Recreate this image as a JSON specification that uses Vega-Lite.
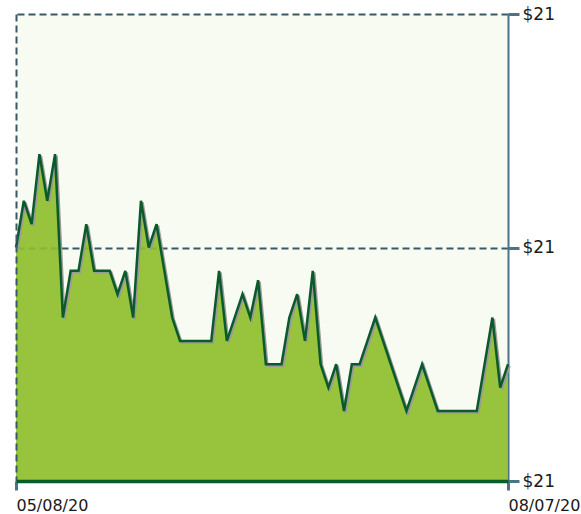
{
  "$schema": "https://vega.github.io/schema/vega-lite/v6.json",
  "width": 492,
  "height": 467,
  "autosize": "none",
  "padding": {"left": 16, "top": 14, "right": 73, "bottom": 33},
  "background": "#ffffff",
  "view": {"fill": "#f7fbf1", "stroke": null},
  "config": {
    "font": "DejaVu Sans",
    "axis": {"labelFont": "DejaVu Sans", "labelFontSize": 16, "labelColor": "#1a1a1a", "title": null}
  },
  "data": {
    "values": [
      {"date": "05/08/20", "price": 21.00},
      {"date": "05/11/20", "price": 21.02},
      {"date": "05/12/20", "price": 21.01},
      {"date": "05/13/20", "price": 21.04},
      {"date": "05/14/20", "price": 21.02},
      {"date": "05/15/20", "price": 21.04},
      {"date": "05/18/20", "price": 20.97},
      {"date": "05/19/20", "price": 20.99},
      {"date": "05/20/20", "price": 20.99},
      {"date": "05/21/20", "price": 21.01},
      {"date": "05/22/20", "price": 20.99},
      {"date": "05/26/20", "price": 20.99},
      {"date": "05/27/20", "price": 20.99},
      {"date": "05/28/20", "price": 20.98},
      {"date": "05/29/20", "price": 20.99},
      {"date": "06/01/20", "price": 20.97},
      {"date": "06/02/20", "price": 21.02},
      {"date": "06/03/20", "price": 21.00},
      {"date": "06/04/20", "price": 21.01},
      {"date": "06/05/20", "price": 20.99},
      {"date": "06/08/20", "price": 20.97},
      {"date": "06/09/20", "price": 20.96},
      {"date": "06/10/20", "price": 20.96},
      {"date": "06/11/20", "price": 20.96},
      {"date": "06/12/20", "price": 20.96},
      {"date": "06/15/20", "price": 20.96},
      {"date": "06/16/20", "price": 20.99},
      {"date": "06/17/20", "price": 20.96},
      {"date": "06/18/20", "price": 20.97},
      {"date": "06/19/20", "price": 20.98},
      {"date": "06/22/20", "price": 20.97},
      {"date": "06/23/20", "price": 20.986},
      {"date": "06/24/20", "price": 20.95},
      {"date": "06/25/20", "price": 20.95},
      {"date": "06/26/20", "price": 20.95},
      {"date": "06/29/20", "price": 20.97},
      {"date": "06/30/20", "price": 20.98},
      {"date": "07/01/20", "price": 20.96},
      {"date": "07/02/20", "price": 20.99},
      {"date": "07/06/20", "price": 20.95},
      {"date": "07/07/20", "price": 20.94},
      {"date": "07/08/20", "price": 20.95},
      {"date": "07/09/20", "price": 20.93},
      {"date": "07/10/20", "price": 20.95},
      {"date": "07/13/20", "price": 20.95},
      {"date": "07/14/20", "price": 20.96},
      {"date": "07/15/20", "price": 20.97},
      {"date": "07/16/20", "price": 20.96},
      {"date": "07/17/20", "price": 20.95},
      {"date": "07/20/20", "price": 20.94},
      {"date": "07/21/20", "price": 20.93},
      {"date": "07/22/20", "price": 20.94},
      {"date": "07/23/20", "price": 20.95},
      {"date": "07/24/20", "price": 20.94},
      {"date": "07/27/20", "price": 20.93},
      {"date": "07/28/20", "price": 20.93},
      {"date": "07/29/20", "price": 20.93},
      {"date": "07/30/20", "price": 20.93},
      {"date": "07/31/20", "price": 20.93},
      {"date": "08/03/20", "price": 20.93},
      {"date": "08/04/20", "price": 20.95},
      {"date": "08/05/20", "price": 20.97},
      {"date": "08/06/20", "price": 20.94},
      {"date": "08/07/20", "price": 20.95}
    ]
  },
  "encoding": {
    "x": {
      "field": "date",
      "type": "ordinal",
      "sort": null,
      "scale": {"type": "point", "padding": 0},
      "axis": {
        "values": ["05/08/20", "08/07/20"],
        "zindex": 1,
        "labelAngle": 0,
        "labelAlign": "left",
        "labelBaseline": "top",
        "labelPadding": 7,
        "labelFlush": false,
        "grid": true,
        "gridColor": "#3b5868",
        "gridDash": [7, 4],
        "gridWidth": 2,
        "gridOpacity": {"condition": {"test": "datum.value === '08/07/20'", "value": 0}, "value": 1},
        "domainColor": "#0d5a2b",
        "domainWidth": 3.5,
        "tickColor": "#4b7486",
        "tickWidth": 3,
        "tickSize": 9
      }
    },
    "y": {
      "field": "price",
      "type": "quantitative",
      "scale": {"domain": [20.9, 21.1], "nice": false, "zero": false},
      "axis": {
        "orient": "right",
        "values": [20.9, 21.0, 21.1],
        "format": "$.0f",
        "grid": true,
        "gridColor": "#3b5868",
        "gridDash": [7, 4],
        "gridWidth": 2,
        "gridOpacity": 1,
        "domainColor": "#4b7486",
        "domainWidth": 2,
        "tickColor": "#4b7486",
        "tickWidth": 3,
        "tickSize": 11,
        "labelPadding": 3,
        "labelFontSize": 17,
        "labelBaseline": "middle"
      }
    }
  },
  "layer": [
    {"mark": {"type": "area", "color": "#8ebe2e", "opacity": 0.92}, "encoding": {"y2": {"datum": 20.9}}},
    {"mark": {"type": "line", "color": "#9a9a9a", "strokeWidth": 2.5, "xOffset": 1.5, "yOffset": 1.5}},
    {"mark": {"type": "line", "color": "#0b5a2b", "strokeWidth": 2.5}}
  ]
}
